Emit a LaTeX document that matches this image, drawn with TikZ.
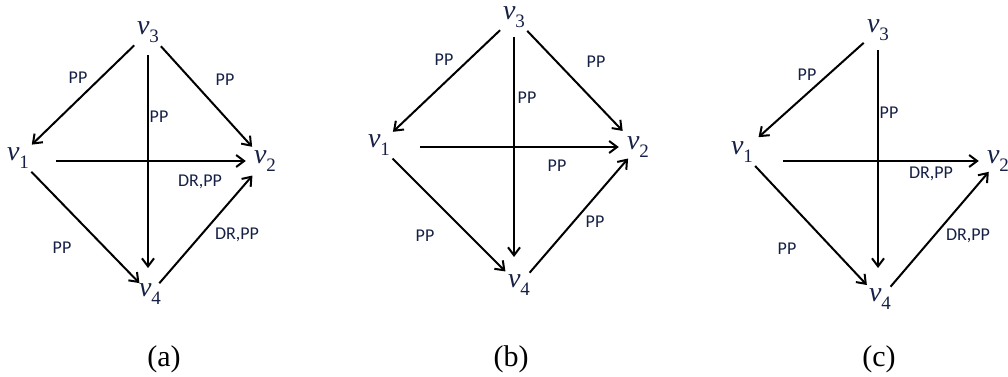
\documentclass[tikz,border=0pt]{standalone}
\usepackage{fontspec}
\setmainfont{Liberation Serif}
\newfontfamily\lblfont{Carlito}
\usetikzlibrary{arrows.meta}
\definecolor{navy}{RGB}{22,32,70}

% vertex label v_i
\newcommand{\vtx}[1]{\textit{v}\raisebox{-8pt}{\fontsize{19}{19}\selectfont #1}}

\tikzset{
  vert/.style={circle, minimum size=38pt, inner sep=0pt, text=navy, font=\fontsize{28}{30}\selectfont},
  edge/.style={line width=2pt, -{Straight Barb[length=8pt,width=12pt,line width=2pt]}},
  lbl/.style={text=navy, font=\lblfont\fontsize{18}{20}\selectfont, inner sep=0pt},
  capt/.style={font=\fontsize{30}{32}\selectfont}
}

\begin{document}
\begin{tikzpicture}[x=1pt, y=-1pt]
  \useasboundingbox (0,0) rectangle (1008,376);

  % Panel (a)
  \node[vert] (va3) at (148,32) {\vtx{3}};
  \node[vert] (va1) at (18,158) {\vtx{1}};
  \node[vert] (va2) at (265,161) {\vtx{2}};
  \node[vert] (va4) at (150,294) {\vtx{4}};
  \draw[edge] (va3) -- (va1);
  \draw[edge] (va3) -- (va2);
  \draw[edge, shorten <=4pt, shorten >=26pt] (va3) -- (va3 |- va4);
  \draw[edge, shorten <=38pt] (va1 |- va2) -- (va2);
  \draw[edge, shorten >=-4pt] (va1) -- (va4);
  \draw[edge, shorten <=-5pt] (va4) -- (va2);
  \node[lbl] (la31) at (78,78) {PP};
  \node[lbl] (la32) at (225,80) {PP};
  \node[lbl] (la34) at (159,117) {PP};
  \node[lbl] (la12) at (200,182) {DR,PP};
  \node[lbl] (la42) at (237,235) {DR,PP};
  \node[lbl] (la14) at (62,248) {PP};

  % Panel (b)
  \node[vert] (vb3) at (514,17) {\vtx{3}};
  \node[vert] (vb1) at (379,145) {\vtx{1}};
  \node[vert] (vb2) at (638,147) {\vtx{2}};
  \node[vert] (vb4) at (519,285) {\vtx{4}};
  \draw[edge] (vb3) -- (vb1);
  \draw[edge, shorten >=3pt] (vb3) -- (vb2);
  \draw[edge, shorten <=1pt, shorten >=28pt] (vb3) -- (vb3 |- vb4);
  \draw[edge, shorten <=41pt] (vb1 |- vb2) -- (vb2);
  \draw[edge] (vb1) -- (vb4);
  \draw[edge, shorten <=-3pt, shorten >=-4pt] (vb4) -- (vb2);
  \node[lbl] (lb31) at (444,60) {PP};
  \node[lbl] (lb32) at (596,62) {PP};
  \node[lbl] (lb34) at (527,98) {PP};
  \node[lbl] (lb12) at (557,166) {PP};
  \node[lbl] (lb42) at (595,222) {PP};
  \node[lbl] (lb14) at (425,236) {PP};

  % Panel (c)
  \node[vert] (vc3) at (878,30) {\vtx{3}};
  \node[vert] (vc1) at (742,152) {\vtx{1}};
  \node[vert] (vc2) at (998,161) {\vtx{2}};
  \node[vert] (vc4) at (880,299) {\vtx{4}};
  \draw[edge, shorten >=3pt] (vc3) -- (vc1);
  \draw[edge, shorten <=1pt, shorten >=31pt] (vc3) -- (vc3 |- vc4);
  \draw[edge, shorten <=41pt] (vc1 |- vc2) -- (vc2);
  \draw[edge] (vc1) -- (vc4);
  \draw[edge, shorten <=-3pt, shorten >=-5pt] (vc4) -- (vc2);
  \node[lbl] (lc31) at (807,75) {PP};
  \node[lbl] (lc34) at (889,113) {PP};
  \node[lbl] (lc12) at (931,174) {DR,PP};
  \node[lbl] (lc42) at (968,236) {DR,PP};
  \node[lbl] (lc14) at (787,249) {PP};

  % Captions
  \foreach \x/\cap in {164/a, 511/b, 879/c} {
    \node[capt] (cap\cap) at (\x,359) {(\cap)};
  }
\end{tikzpicture}
\end{document}
